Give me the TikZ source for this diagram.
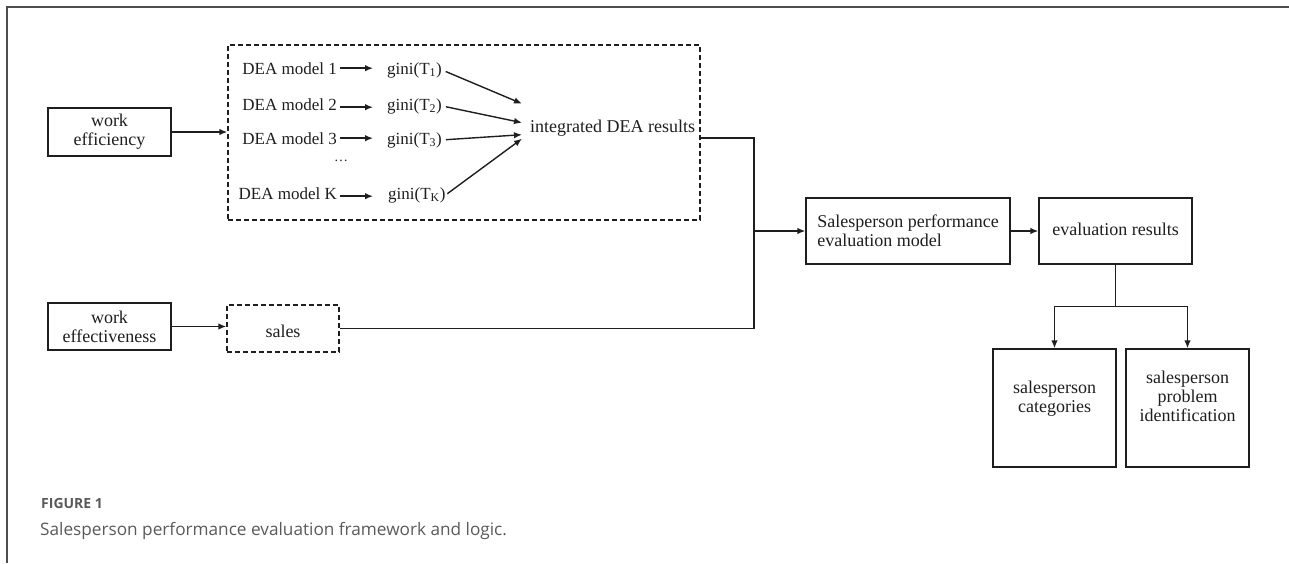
\documentclass[tikz,border=0pt]{standalone}
\usepackage{fontspec}
\setmainfont{Liberation Serif}
\newfontfamily\capfont{Open Sans}
\usetikzlibrary{arrows.meta,calc}
\definecolor{ink}{HTML}{1E1E1E}
\definecolor{framegray}{HTML}{4D4D4D}
\definecolor{capgray}{HTML}{5A5A5A}
\begin{document}
\begin{tikzpicture}[x=1pt,y=-1pt,
  box/.style={draw=ink, line width=1.4pt, rectangle, inner sep=0pt, align=center,
    text=ink, font=\fontsize{18}{19}\selectfont},
  dbox/.style={box, dash pattern=on 5pt off 3pt},
  lbl/.style={inner sep=0pt, text=ink, font=\fontsize{17}{19}\selectfont},
  wire/.style={draw=ink, line width=1.4pt},
  arr/.style={wire, -{Latex[length=8pt,width=6.5pt]}},
  captext/.style={anchor=base west, inner sep=0pt, text=capgray}]
\useasboundingbox (0,0) rectangle (1289,563);

% page frame (top and left rule)
\draw[framegray, line width=1.5pt] (7,563) -- (7,7) -- (1289,7);

% inputs
\node[box, minimum width=123pt, minimum height=48pt] (weff) at (109.5,132) {work\\efficiency};
\node[box, minimum width=123pt, minimum height=47pt] (weft) at (109.5,326.5) {work\\effectiveness};

% DEA block
\node[dbox, minimum width=472pt, minimum height=175pt] (dea) at (464,132.5) {};
\node[lbl, anchor=base east] (d1) at (337,74)  {DEA model 1};
\node[lbl, anchor=base east] (d2) at (337,110) {DEA model 2};
\node[lbl, anchor=base east] (d3) at (337,144) {DEA model 3};
\node[lbl, anchor=base east] (dk) at (337,199) {DEA model K};
\node[lbl, font=\fontsize{14}{14}\selectfont] (dots) at (341,161) {…};

\node[lbl, anchor=base west] (g1) at (387,74)  {gini(T\textsubscript{1})};
\node[lbl, anchor=base west] (g2) at (387,110) {gini(T\textsubscript{2})};
\node[lbl, anchor=base west] (g3) at (387,144) {gini(T\textsubscript{3})};
\node[lbl, anchor=base west] (gk) at (388,199) {gini(T\textsubscript{K})};

\node[lbl, font=\fontsize{18}{20}\selectfont, anchor=base west] (int) at (530,132) {integrated DEA results};
\coordinate (i1) at ($(int.west)+(-8,-24)$);
\coordinate (i2) at ($(int.west)+(-8,-5)$);
\coordinate (i3) at ($(int.west)+(-8,7)$);
\coordinate (i4) at ($(int.west)+(-8,11)$);

\draw[arr, shorten <=3pt, shorten >=14pt] (d1.east) -- (d1.east -| g1.west);
\draw[arr, shorten <=3pt, shorten >=14pt] ([yshift=-3pt]d2.east) -- ([yshift=-3pt]d2.east -| g2.west);
\draw[arr, shorten <=3pt, shorten >=14pt] (d3.east) -- (d3.east -| g3.west);
\draw[arr, shorten <=3pt, shorten >=15pt] ([yshift=-3pt]dk.east) -- ([yshift=-3pt]dk.east -| gk.west);

\draw[arr, shorten <=4pt] (g1.east) -- (i1);
\draw[arr, shorten <=4pt] (g2.east) -- (i2);
\draw[arr, shorten <=4pt] (g3.east) -- (i3);
\draw[arr, shorten <=2pt] (gk.east) -- (i4);

% sales
\node[dbox, minimum width=112pt, minimum height=47pt] (sales) at (283,328.5) {\mbox{}\\sales};

\draw[arr] (weff.east) -- (weff.east -| dea.west);
\draw[arr] (weft.east) -- (weft.east -| sales.west);

% evaluation model and results
\node[box, minimum width=204pt, minimum height=66pt, align=left] (spm) at (908,231)
  {Salesperson performance\\evaluation model};
\node[box, minimum width=153pt, minimum height=66pt] (er) at (1115.5,231)
  {\raisebox{4pt}{evaluation results}};

\coordinate (o1) at ($(dea.east)+(0,5.5)$);
\coordinate (jn) at (754,231);
\draw[wire] (o1) -| (jn);
\draw[wire] (sales.east) -| (jn);
\draw[arr] (jn) -- (spm.west);
\draw[arr] (spm.east) -- (er.west);

% outcomes
\node[box, minimum width=123pt, minimum height=118pt] (c1) at (1054.5,408)
  {salesperson\\categories\\[4pt]};
\node[box, minimum width=123pt, minimum height=118pt] (c2) at (1187.5,408)
  {salesperson\\problem\\identification\\[4pt]};
\coordinate (sp) at ($(er.south)+(0,42)$);
\draw[wire] (er.south) -- (sp);
\draw[arr] (sp) -| (c1.north);
\draw[arr] (sp) -| (c2.north);

% caption
\node[captext, font=\capfont\bfseries\fontsize{14}{14}\selectfont] (fig) at (41,508) {FIGURE 1};
\node[captext, font=\capfont\fontsize{17.2}{17}\selectfont] (cap) at (40,535)
  {Salesperson performance evaluation framework and logic.};
\end{tikzpicture}
\end{document}
